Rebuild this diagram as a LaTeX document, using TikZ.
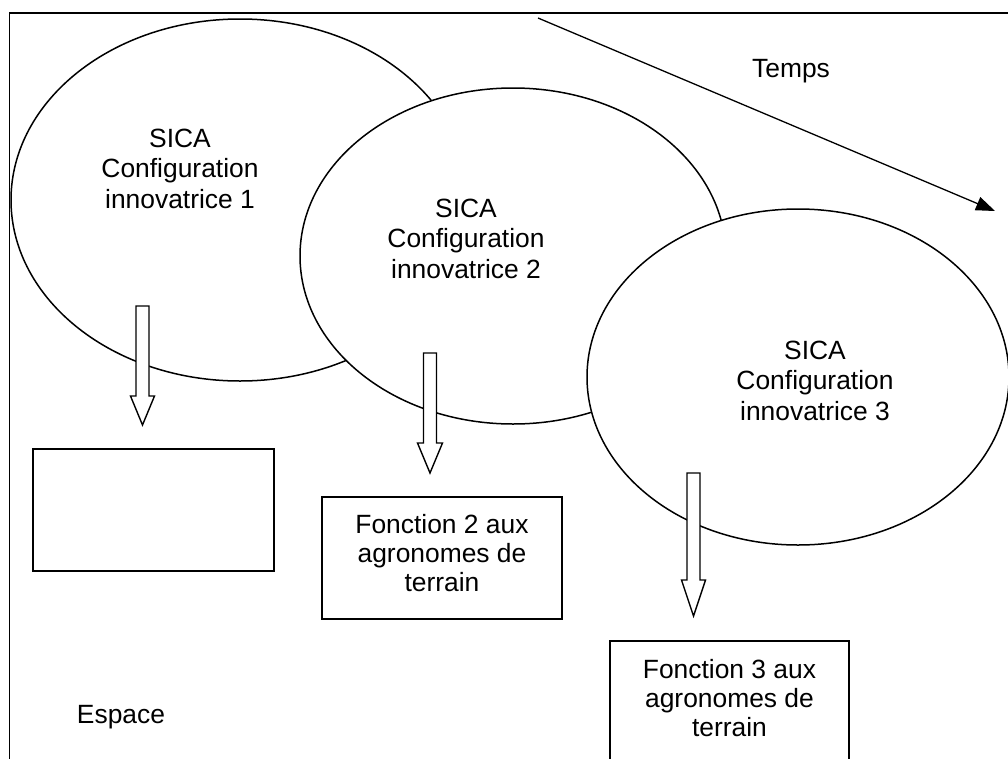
\documentclass[tikz,border=0pt]{standalone}
\usepackage{fontspec}
\setmainfont{Liberation Sans}
\usetikzlibrary{shapes.geometric,arrows.meta}
\begin{document}
\begin{tikzpicture}[x=1pt,y=-1pt,
  oval/.style={ellipse,draw,fill=white,line width=1.5pt,inner sep=0pt},
  fbox/.style={draw,fill=white,line width=1.8pt,inner sep=0pt,align=center},
  lbl/.style={inner sep=0pt,align=center,font=\fontsize{26.4}{30.5}\selectfont},
  blbl/.style={inner sep=0pt,align=center,font=\fontsize{26.4}{29}\selectfont},
  frame/.style={line width=1.8pt},
  timeline/.style={line width=1.3pt,-{Triangle[length=19pt,width=14pt]}},
  hollow/.style={draw,fill=white,line width=1.4pt,line join=miter},
  pics/downarrow/.style n args={3}{code={
    \path[hollow] (-6.5,0) -- (6.5,0) -- (6.5,{#1-#2}) -- (#3,{#1-#2}) -- (0,#1)
      -- (-#3,{#1-#2}) -- (-6.5,{#1-#2}) -- cycle;}}
]
\useasboundingbox (0,0) rectangle (1008,758);
\clip (0,0) rectangle (1008,758);
\fill[white] (0,0) rectangle (1008,758);
% frame
\coordinate (fr1) at (1010,13);
\coordinate (fr2) at (9.5,13);
\coordinate (fr3) at (9.5,760);
\draw[frame] (fr1) -- (fr2) -- (fr3);
% time arrow
\coordinate (ta) at (538,18);
\coordinate (tb) at (995,211);
\draw[timeline] (ta) -- (tb);
\node[lbl,anchor=base] (temps) at (791,77) {Temps};
% ellipses
\node[oval,minimum width=458,minimum height=362] (e1) at (240,200) {};
\node[lbl,anchor=base] (t1) at (180,208) {SICA\\Configuration\\innovatrice 1};
\node[oval,minimum width=426,minimum height=336] (e2) at (513,256) {};
\node[lbl,anchor=base] (t2) at (466,278) {SICA\\Configuration\\innovatrice 2};
\node[oval,minimum width=422,minimum height=336] (e3) at (798,377) {};
\node[lbl,anchor=base] (t3) at (815,420) {SICA\\Configuration\\innovatrice 3};
% block arrows
\coordinate (a1) at (142.5,306);
\coordinate (a2) at (430,353);
\coordinate (a3) at (693.5,473);
\pic at (a1) {downarrow={119}{29}{12}};
\pic at (a2) {downarrow={120}{30}{12.5}};
\pic at (a3) {downarrow={143}{36}{12}};
% boxes
\node[fbox,minimum width=241,minimum height=122] (b1) at (153.5,510) {};
\node[fbox,minimum width=240,minimum height=122] (b2) at (442,558) {};
\node[blbl,anchor=base] (bt2) at (442,591) {Fonction 2 aux\\agronomes de\\terrain};
\node[fbox,minimum width=239,minimum height=122] (b3) at (729.5,702) {};
\node[blbl,anchor=base] (bt3) at (729.5,736) {Fonction 3 aux\\agronomes de\\terrain};
\node[lbl,anchor=base] (esp) at (121,723) {Espace};
\end{tikzpicture}
\end{document}
